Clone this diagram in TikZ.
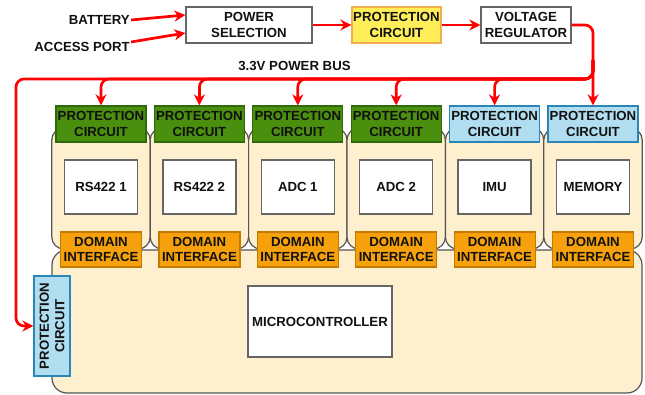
\documentclass[tikz,border=0pt]{standalone}
\usepackage{fontspec}
\setmainfont{Liberation Sans}
\usetikzlibrary{arrows.meta,calc}
\definecolor{pgreen}{HTML}{4A8F0E}
\definecolor{pgreenD}{HTML}{2F6A0A}
\definecolor{pblue}{HTML}{B1DDF0}
\definecolor{pblueD}{HTML}{2A86B5}
\definecolor{pyel}{HTML}{FFEE58}
\definecolor{pyelD}{HTML}{F2AE4E}
\definecolor{dorg}{HTML}{F6A10B}
\definecolor{dorgD}{HTML}{C47A00}
\definecolor{beige}{HTML}{FEEFCF}
\definecolor{bord}{HTML}{555555}
\definecolor{wbord}{HTML}{666666}
\definecolor{txt}{HTML}{111111}
\definecolor{wire}{HTML}{FF0000}
\begin{document}
\begin{tikzpicture}[x=1pt,y=-1pt,
  every node/.style={font=\fontsize{13.2}{15.5}\selectfont\bfseries, text=txt, align=center, inner sep=1pt},
  wbox/.style={draw=wbord, line width=1.3pt, fill=white},
  modbox/.style={draw=bord, line width=1.2pt, fill=beige, rounded corners=12pt, minimum width=98.4pt, minimum height=121pt},
  pcg/.style={draw=pgreenD, line width=1.2pt, fill=pgreen, minimum width=90pt, minimum height=36pt},
  pcb/.style={draw=pblueD, line width=1.2pt, fill=pblue, minimum width=90pt, minimum height=36pt},
  pcy/.style={draw=pyelD, line width=1.2pt, fill=pyel},
  devbox/.style={wbox, minimum width=73pt, minimum height=54pt},
  dibox/.style={draw=dorgD, line width=1.2pt, fill=dorg, minimum width=81pt, minimum height=35pt},
  arr/.style={draw=wire, line width=2.7pt, line join=round, -{Stealth[length=11pt,width=11pt,inset=3.5pt]}}
]
\useasboundingbox (0,0) rectangle (645,395);

% modules
\foreach \i in {0,...,5}{
  \pgfmathsetmacro\cx{101+98.4*\i}
  \node[modbox] (mod\i) at (\cx,188.5) {};
}
% microcontroller domain
\node[draw=bord, line width=1.2pt, fill=beige, rounded corners=15pt, minimum width=590pt, minimum height=143pt] (mcd) at (347,321.5) {};
\node[wbox, minimum width=144pt, minimum height=71pt] (mcu) at (320,321.5) {MICROCONTROLLER};

% per-column boxes
\foreach \i/\lbl/\st in {0/RS422 1/pcg,1/RS422 2/pcg,2/ADC 1/pcg,3/ADC 2/pcg,4/IMU/pcb,5/MEMORY/pcb}{
  \pgfmathsetmacro\cx{101+98.4*\i}
  \node[\st] (pc\i) at (\cx,124) {PROTECTION\\CIRCUIT};
  \node[devbox] (dev\i) at (\cx,187) {\lbl};
  \node[dibox] (di\i) at (\cx,249.5) {DOMAIN\\INTERFACE};
}

% left protection circuit
\node[pcb, rotate=90, minimum width=100pt, minimum height=36pt] (lpc) at (52,326) {PROTECTION\\CIRCUIT};

% top row
\node[anchor=east] (bat) at (131,20) {BATTERY};
\node[anchor=east] (acc) at (131,47) {ACCESS PORT};
\node[wbox, minimum width=126pt, minimum height=36pt] (ps) at (249,25) {POWER\\SELECTION};
\node[pcy, minimum width=89pt, minimum height=36pt] (ypc) at (396.5,25) {PROTECTION\\CIRCUIT};
\node[wbox, minimum width=90pt, minimum height=36pt] (vr) at (526,25) {VOLTAGE\\REGULATOR};
\node (buslbl) at (294.5,66) {3.3V POWER BUS};

% connectors
\draw[arr] (bat.east) -- ([yshift=10pt]ps.west);
\draw[arr] ([yshift=5pt]acc.east) -- ([yshift=-8pt]ps.west);
\draw[arr] (ps) -- (ypc);
\draw[arr] (ypc) -- (vr);
\coordinate (vrR) at (593,25);
\coordinate (busT) at (593,60);
\coordinate (busR) at (593,79);
\coordinate (busL) at (16,79);
\draw[arr, rounded corners=8pt] (vr.east) -- (vrR) -- (pc5.north);
\foreach \i in {0,...,4}
  \draw[arr, rounded corners=8pt] (busT) -- (busR) -- (pc\i.north |- busR) -- (pc\i.north);
\draw[arr, rounded corners=8pt] (busT) -- (busR) -- (busL) -- (busL |- lpc.north) -- (lpc.north);
\end{tikzpicture}
\end{document}
